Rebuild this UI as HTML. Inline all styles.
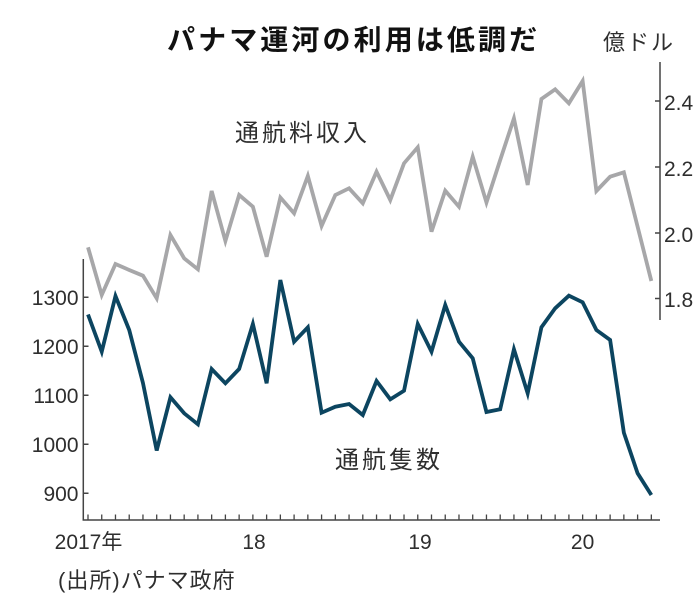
<!DOCTYPE html>
<html>
<head>
<meta charset="utf-8">
<style>
  html, body { margin: 0; padding: 0; background: #ffffff; }
  svg { display: block; }
  .t { font-family: "Liberation Sans", "Noto Sans CJK JP", sans-serif; fill: #2e2e2e; }
</style>
</head>
<body>
<svg width="699" height="599" viewBox="0 0 699 599" xmlns="http://www.w3.org/2000/svg">
  <rect width="699" height="599" fill="#ffffff"/>

  <text class="t" x="167" y="49.5" font-size="28" font-weight="bold" letter-spacing="3.1" style="fill:#111">パナマ運河の利用は低調だ</text>
  <text class="t" x="603" y="50" font-size="22" letter-spacing="2">億ドル</text>

  <line x1="660" y1="62" x2="660" y2="320" stroke="#444" stroke-width="1.5"/>
  <path d="M655 101H660M655 167H660M655 233H660M655 298.5H660" stroke="#444" stroke-width="1.5"/>
  <g class="t" font-size="21">
    <text x="664" y="110">2.4</text>
    <text x="664" y="176">2.2</text>
    <text x="664" y="242">2.0</text>
    <text x="664" y="307">1.8</text>
  </g>

  <line x1="83.3" y1="259" x2="83.3" y2="520.5" stroke="#444" stroke-width="1.5"/>
  <path d="M83.3 297.3H88.5M83.3 346.3H88.5M83.3 395.3H88.5M83.3 444.3H88.5M83.3 493.3H88.5" stroke="#444" stroke-width="1.5"/>
  <g class="t" font-size="21" text-anchor="end">
    <text x="78.5" y="305">1300</text>
    <text x="78.5" y="354">1200</text>
    <text x="78.5" y="403">1100</text>
    <text x="78.5" y="452">1000</text>
    <text x="78.5" y="501">900</text>
  </g>

  <line x1="82.6" y1="520" x2="660" y2="520" stroke="#444" stroke-width="1.5"/>
  <path stroke="#444" stroke-width="1.3" d="M88 514.5V520M101.74 514.5V520M115.48 514.5V520M129.22 514.5V520M142.96 514.5V520M156.7 514.5V520M170.44 514.5V520M184.18 514.5V520M197.92 514.5V520M211.66 514.5V520M225.4 514.5V520M239.14 514.5V520M252.88 514.5V520M266.62 514.5V520M280.36 514.5V520M294.1 514.5V520M307.84 514.5V520M321.58 514.5V520M335.32 514.5V520M349.06 514.5V520M362.8 514.5V520M376.54 514.5V520M390.28 514.5V520M404.02 514.5V520M417.76 514.5V520M431.5 514.5V520M445.24 514.5V520M458.98 514.5V520M472.72 514.5V520M486.46 514.5V520M500.2 514.5V520M513.94 514.5V520M527.68 514.5V520M541.42 514.5V520M555.16 514.5V520M568.9 514.5V520M582.64 514.5V520M596.38 514.5V520M610.12 514.5V520M623.86 514.5V520M637.6 514.5V520M651.34 514.5V520"/>
  <g class="t" font-size="21" text-anchor="middle">
    <text x="88.5" y="549">2017年</text>
    <text x="254" y="549">18</text>
    <text x="420" y="549">19</text>
    <text x="582.6" y="549">20</text>
  </g>

  <polyline fill="none" stroke="#a7a7a9" stroke-width="3.8" stroke-linejoin="miter" stroke-miterlimit="4"
    points="88,247.3 101.74,295 115.48,264 129.22,270 142.96,275.7 156.7,298.3 170.44,235 184.18,258.3 197.92,269.3 211.66,191 225.4,241 239.14,195 252.88,206.7 266.62,256.7 280.36,197.5 294.1,213.3 307.84,176 321.58,226 335.32,195 349.06,188.3 362.8,203.3 376.54,171.7 390.28,200 404.02,163.3 417.76,147.3 431.5,231.7 445.24,190.7 458.98,206.7 472.72,156.7 486.46,202.5 500.2,160 513.94,118.3 527.68,185 541.42,99 555.16,89.3 568.9,103.3 582.64,81 596.38,191 610.12,176.7 623.86,172.3 637.6,226.7 651.34,281"/>

  <polyline fill="none" stroke="#0c4560" stroke-width="3.8" stroke-linejoin="miter" stroke-miterlimit="4"
    points="88,314.5 101.74,351.7 115.48,296 129.22,330 142.96,383 156.7,450.5 170.44,397.3 184.18,413.3 197.92,424.3 211.66,369 225.4,383.3 239.14,369 252.88,324 266.62,383.3 280.36,280 294.1,341.7 307.84,327.3 321.58,412.7 335.32,406.7 349.06,404 362.8,415 376.54,381 390.28,399.3 404.02,390.7 417.76,324 431.5,351.7 445.24,305 458.98,341.7 472.72,358.3 486.46,412 500.2,409.3 513.94,349.3 527.68,393.3 541.42,327.3 555.16,308.3 568.9,295.7 582.64,302.3 596.38,330 610.12,340 623.86,432.7 637.6,473.3 651.34,495"/>

  <text class="t" x="235" y="141" font-size="24" letter-spacing="3">通航料収入</text>
  <text class="t" x="335" y="468" font-size="24" letter-spacing="3">通航隻数</text>

  <text class="t" x="58" y="588" font-size="22" letter-spacing="1">(出所)パナマ政府</text>
</svg>
</body>
</html>
